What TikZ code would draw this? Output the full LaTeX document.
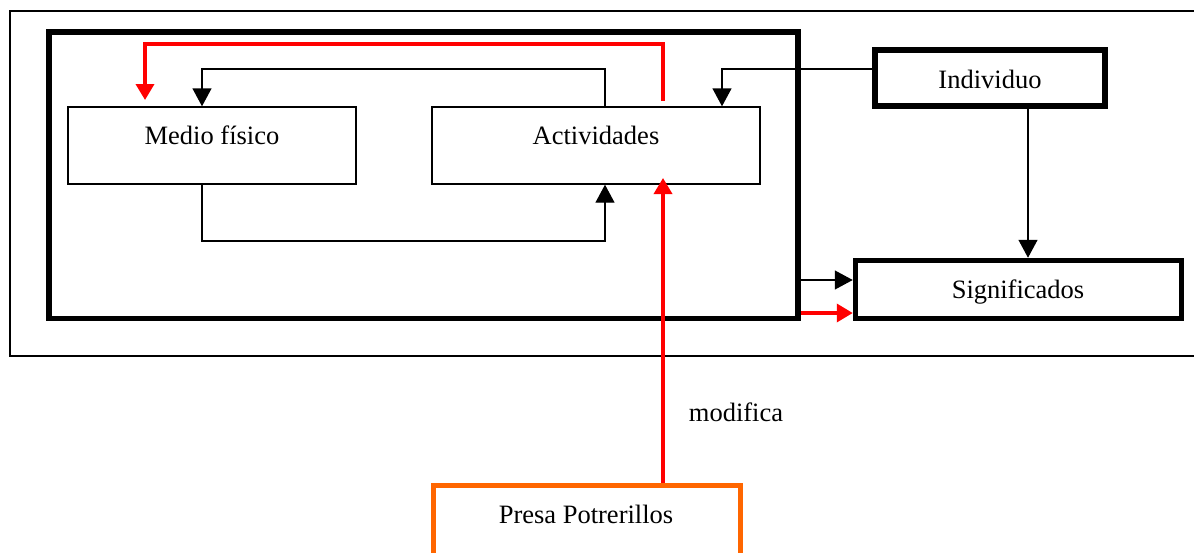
\documentclass[tikz,border=0pt]{standalone}
\usepackage{fontspec}
\setmainfont{Liberation Serif}
\usetikzlibrary{arrows.meta}
\definecolor{myred}{RGB}{255,0,0}
\definecolor{myorange}{RGB}{255,102,0}
\begin{document}
\begin{tikzpicture}[x=1pt,y=-1pt,
  thinbox/.style={draw, line width=1.4pt, inner sep=0pt},
  thickbox/.style={draw, line width=5.5pt, inner sep=0pt},
  txt/.style={anchor=base, inner sep=0pt, font=\fontsize{26.5}{30}\selectfont},
  blk/.style={draw=black, line width=1.4pt, -{Triangle[length=18pt,width=19pt]}},
  redarr/.style={draw=myred, line width=3.5pt, -{Triangle[length=16pt,width=18pt]}},
  redline/.style={draw=myred, line width=3.5pt}]
\clip (0,0) rectangle (1194,552);
\fill[white] (0,0) rectangle (1194,552);
% outer frame
\node[draw, line width=1.3pt, minimum width=1200pt, minimum height=345pt, inner sep=0pt] (outer) at (610,183.5) {};
% thick frame
\node[thickbox, minimum width=749pt, minimum height=286.5pt] (frame) at (423.5,175.25) {};
% boxes
\node[thinbox, minimum width=288pt, minimum height=77pt] (medio) at (212,145.5) {};
\node[thinbox, minimum width=328pt, minimum height=77pt] (act) at (596,145.5) {};
\node[thickbox, minimum width=230pt, minimum height=56pt] (ind) at (990,78) {};
\node[thickbox, minimum width=326pt, minimum height=58pt] (sig) at (1018.5,289.5) {};
\node[draw=myorange, line width=5pt, inner sep=0pt, minimum width=307.5pt, minimum height=90pt] (presa) at (586.75,530.5) {};
% texts
\node[txt] (tmedio) at (212,144) {Medio físico};
\node[txt] (tact) at (596,144) {Actividades};
\node[txt] (tind) at (990,88) {Individuo};
\node[txt] (tsig) at (1018,298) {Significados};
\node[txt] (tpresa) at (586,523) {Presa Potrerillos};
\node[txt] (tmod) at (736,421) {modifica};
% connectors
\draw[blk] (605,0 |- act.north) |- (202,69) -- (202,0 |- medio.north);
\draw[blk] (202,0 |- medio.south) |- (605,241) -- (605,0 |- act.south);
\coordinate (rstart) at (663,101);
\coordinate (rend) at (145,100);
\draw[redarr] (rstart) |- (145,44) -- (rend);
\coordinate (rtip) at (663,178);
\draw[redarr] (663,0 |- presa.north) -- (rtip);
\draw[blk] (ind.west |- 0,69) -| (722,0 |- act.north);
\draw[blk] (1028,0 |- ind.south) -- (1028,0 |- sig.north);
\draw[blk] (frame.east |- 0,280) -- (sig.west |- 0,280);
\draw[redarr] (frame.east |- 0,313) -- (sig.west |- 0,313);
\end{tikzpicture}
\end{document}
